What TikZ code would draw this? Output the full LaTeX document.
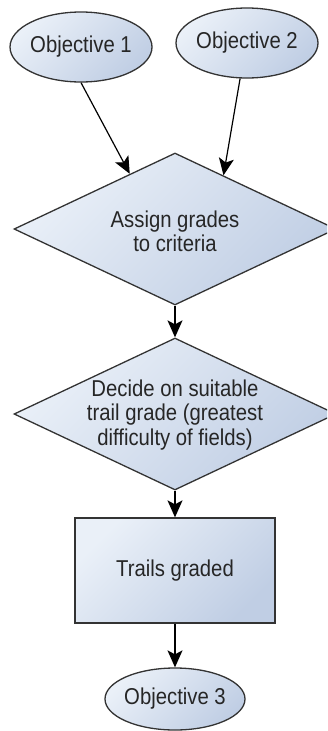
\documentclass[tikz,border=0pt]{standalone}
\usepackage{fontspec}
\setmainfont{Liberation Sans}
\usetikzlibrary{shapes.geometric,arrows.meta,calc}

\definecolor{edge}{HTML}{333333}
\definecolor{fillA}{HTML}{EAF0F8}
\definecolor{fillB}{HTML}{C0CEE4}
\definecolor{ink}{HTML}{262626}

% soft diagonal fill: dark end at the bottom, light end at the top
\pgfdeclareverticalshading{boxfill}{100bp}{color(0bp)=(fillB); color(25bp)=(fillB); color(75bp)=(fillA); color(100bp)=(fillA)}

\begin{document}
\begin{tikzpicture}[x=1pt,y=-1pt,
  box/.style={draw=edge, line width=1.3pt, shade, shading=boxfill,
              shading angle=45, inner sep=0pt},
  goal/.style={box, ellipse, minimum width=142pt, minimum height=70pt},
  choice/.style={box, diamond, minimum width=322pt, minimum height=152pt},
  task/.style={box, rectangle, minimum width=200pt, minimum height=105pt},
  txt/.style={text=ink, font=\fontsize{20.3}{21.5}\selectfont, align=center,
              yscale=1.13, transform shape, inner sep=0pt},
  flow/.style={draw=black, line width=1.2pt,
               -{Stealth[length=17pt,width=15pt,inset=4pt]}}
]
\useasboundingbox (0,0) rectangle (327,731);
\clip (0,0) rectangle (327,731);

% shapes
\node[goal] (o1) at (81,47) {};
\node[goal] (o2) at (247,43) {};
\node[choice] (d1) at (175,229) {};
\node[choice] (d2) at (175,414) {};
\node[task] (tg) at (175,570.5) {};
\node[goal, minimum width=140pt, minimum height=62pt] (o3) at (175,699) {};

% texts
\node[txt] (o1t) at (o1) {Objective 1};
\node[txt] (o2t) at (o2) {Objective 2};
\node[txt] (d1t) at (175,231) {Assign grades\\to criteria};
\node[txt] (d2t) at (175,415) {Decide on suitable\\trail grade (greatest\\difficulty of fields)};
\node[txt] (tgt) at (tg) {Trails graded};
\node[txt] (o3t) at (o3) {Objective 3};

% connectors
\draw[flow] (o1.south) -- ($(d1.north)!0.28!(d1.west)$);
\draw[flow] (o2.-101) -- ($(d1.north)!0.30!(d1.east)$);
\draw[flow] (d1.south) -- (d2.north);
\draw[flow] (d2.south) -- (tg.north);
\draw[flow] (tg.south) -- (o3.north);
\end{tikzpicture}
\end{document}
